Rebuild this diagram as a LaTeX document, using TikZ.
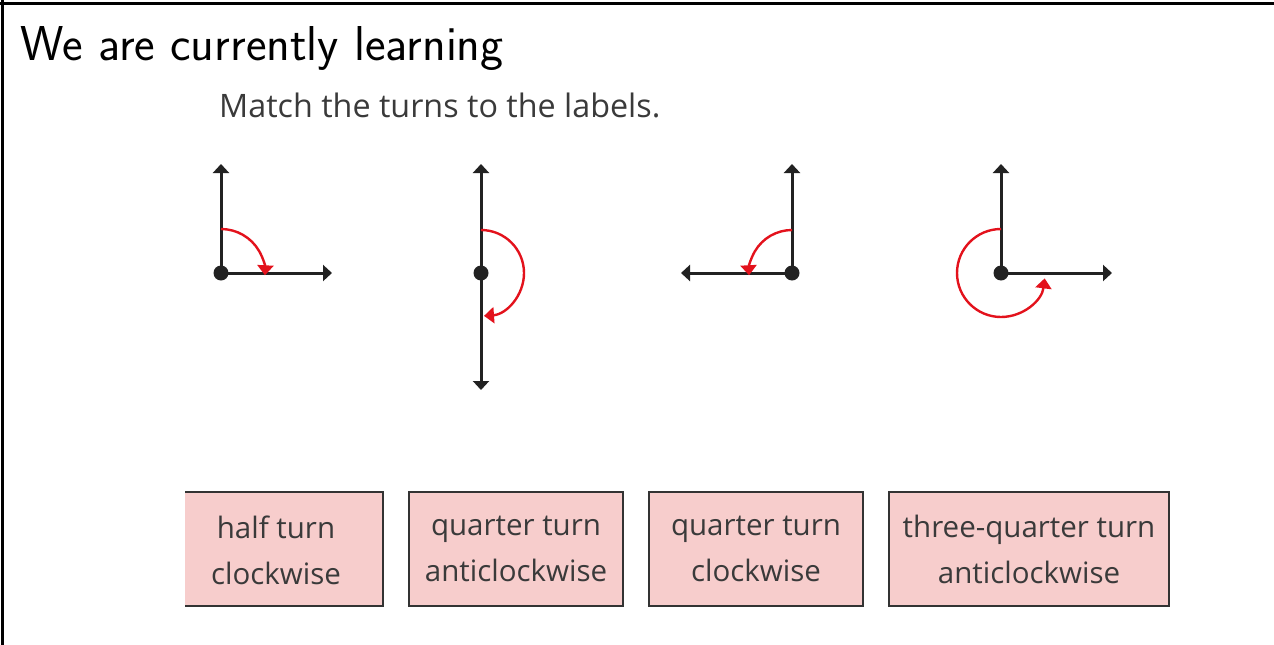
\documentclass[tikz,border=0pt]{standalone}
\usepackage{fontspec}
\setmainfont{Open Sans}
\usetikzlibrary{arrows.meta}
\definecolor{axis}{HTML}{222222}
\definecolor{turnred}{HTML}{E3121C}
\definecolor{boxpink}{HTML}{F7CDCC}
\definecolor{boxline}{HTML}{333333}
\definecolor{txtgray}{HTML}{3A3A3A}
\tikzset{
  axisline/.style={draw=axis, line width=3pt, -{Triangle[length=9pt,width=16pt]}},
  axisboth/.style={draw=axis, line width=3pt, {Triangle[length=9pt,width=16pt]}-{Triangle[length=9pt,width=16pt]}},
  turnarc/.style={draw=turnred, line width=2.4pt, -{Triangle[length=10pt,width=16pt]}},
  centredot/.style={circle, fill=axis, inner sep=0pt, minimum size=15pt},
  boxfont/.style={text=txtgray, font=\fontsize{29.5}{46}\selectfont},
  labelbox/.style={draw=boxline, line width=2pt, fill=boxpink, minimum height=114pt, align=center, boxfont, inner sep=0pt},
  frameline/.style={draw=black, line width=3pt},
}
\begin{document}
\begin{tikzpicture}[x=1pt,y=-1pt]
\useasboundingbox (0,0) rectangle (1274,645);
% frame
\draw[frameline] (0,3) -- (1274,3);
\draw[frameline] (2,0) -- (2,645);
% title
\node[anchor=base west, inner sep=0pt, font=\sffamily\fontsize{49}{55}\selectfont] (title) at (20,60) {We are currently learning};
\node[anchor=base west, inner sep=0pt, text=txtgray, font=\fontsize{32.3}{36}\selectfont] (instr) at (219,117) {Match the turns to the labels.};
% diagram 1
\coordinate (o1) at (221,273);
\coordinate (u1) at (221,164);
\coordinate (r1) at (332,273);
\draw[axisline] (o1) -- (u1);
\draw[axisline] (o1) -- (r1);
\draw[turnarc] (221,229) arc[start angle=90, end angle=-3, radius=44pt];
\node[centredot] (c1) at (o1) {};
% diagram 2
\coordinate (o2) at (481,273);
\coordinate (u2) at (481,164);
\coordinate (d2) at (481,390);
\draw[axisboth] (u2) -- (d2);
\draw[turnarc] (481,230) arc[start angle=90, end angle=-86, radius=43pt];
\node[centredot] (c2) at (o2) {};
% diagram 3
\coordinate (o3) at (792,273);
\coordinate (u3) at (792,164);
\coordinate (l3) at (681,273);
\draw[axisline] (o3) -- (u3);
\draw[axisline] (o3) -- (l3);
\draw[turnarc] (792,230) arc[start angle=90, end angle=183, radius=43pt];
\node[centredot] (c3) at (o3) {};
% diagram 4
\coordinate (o4) at (1001,273);
\coordinate (u4) at (1001,164);
\coordinate (r4) at (1112,273);
\draw[axisline] (o4) -- (u4);
\draw[axisline] (o4) -- (r4);
\draw[turnarc] (1001,229) arc[start angle=90, end angle=353, radius=44pt];
\node[centredot] (c4) at (o4) {};
% label boxes
\fill[boxpink] (185,492) rectangle (383,606);
\draw[boxline, line width=2pt] (185,492) -- (383,492) -- (383,606) -- (185,606);
\node[align=center, boxfont, inner sep=0pt] (b1) at (276,550) {half turn\\clockwise};
\node[labelbox, minimum width=214pt] (b2) at (516,549) {quarter turn\\anticlockwise};
\node[labelbox, minimum width=214pt] (b3) at (756,549) {quarter turn\\clockwise};
\node[labelbox, minimum width=280pt] (b4) at (1029,549) {three-quarter turn\\anticlockwise};
\end{tikzpicture}
\end{document}
